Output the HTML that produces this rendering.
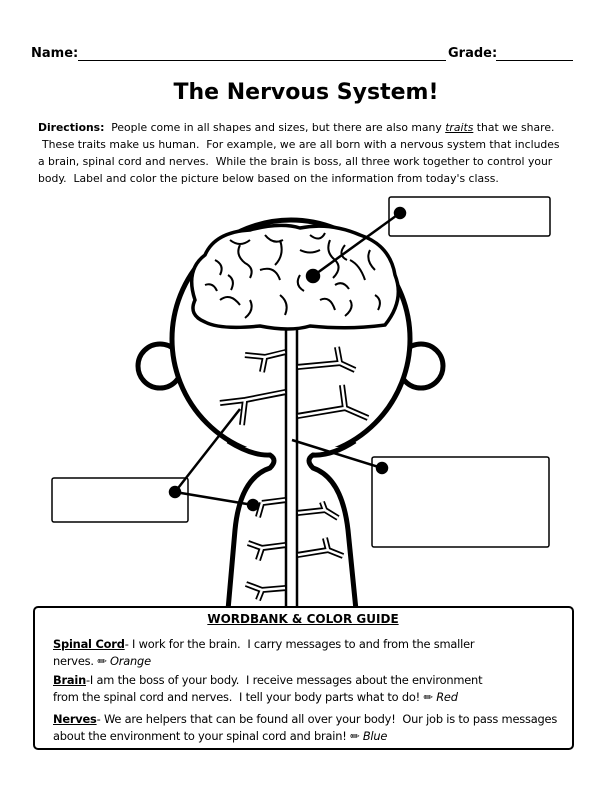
<!DOCTYPE html>
<html><head><style>
body{margin:0;width:612px;height:792px;background:#fff;position:relative;font-family:"DejaVu Sans","Liberation Sans",sans-serif;color:#000;overflow:hidden}
.a{position:absolute;white-space:nowrap}
.d{font-size:10.8px;left:38px}
.w{font-size:11.4px;left:53px;letter-spacing:-0.2px}
</style></head><body>
<div class="a" style="left:31px;top:46px;font-size:13px;font-weight:bold">Name:</div>
<div class="a" style="left:78px;top:60px;width:368px;border-top:1.5px solid #000"></div>
<div class="a" style="left:448px;top:46px;font-size:13px;font-weight:bold">Grade:</div>
<div class="a" style="left:496px;top:60px;width:77px;border-top:1.5px solid #000"></div>
<div class="a" style="left:0;width:612px;text-align:center;top:80px;font-size:22px;font-weight:bold">The Nervous System!</div>
<div class="a d" style="top:121px"><b>Directions:</b>&nbsp; People come in all shapes and sizes, but there are also many <i><u>traits</u></i> that we share.</div>
<div class="a d" style="top:138px;left:42px">These traits make us human.&nbsp; For example, we are all born with a nervous system that includes</div>
<div class="a d" style="top:155px">a brain, spinal cord and nerves.&nbsp; While the brain is boss, all three work together to control your</div>
<div class="a d" style="top:172px">body.&nbsp; Label and color the picture below based on the information from today's class.</div>

<svg class="a" style="left:0;top:0" width="612" height="792" viewBox="0 0 612 792">
<g fill="none" stroke="#000" stroke-width="5">
<circle cx="160" cy="366" r="22"/><circle cx="421" cy="366" r="22"/>
</g>
<circle cx="291" cy="339" r="119" fill="#fff" stroke="#000" stroke-width="5"/>
<rect x="230" y="447" width="124" height="163" fill="#fff" stroke="none"/>
<path d="M228,441 Q252,456 270,455 Q278,460 270,468 Q240,478 235,530 L228,610 M355,441 Q332,456 313,455 Q305,460 313,468 Q342,478 348,530 L356,610" fill="none" stroke="#000" stroke-width="5"/>
<g fill="#fff" stroke="#000" stroke-width="3.5">
<path d="M195,300 Q185,270 205,255 Q215,232 250,230 Q280,222 300,228 Q330,222 360,235 Q390,245 395,275 Q405,300 385,325 Q350,330 310,326 Q290,332 260,326 Q220,330 205,322 Q188,315 195,300Z"/>
</g>
<g fill="none" stroke="#000" stroke-width="2">
<path d="M215,260 q10,5 5,15 M240,245 q-5,10 5,18 q10,5 5,15 M260,270 q15,-5 20,10 M280,240 q5,15 -5,25 M300,250 q10,5 20,0 M330,240 q-5,12 5,20 q8,8 -2,18 M350,260 q10,5 15,20 M370,250 q-5,10 5,20 M220,300 q10,-8 20,5 M250,300 q5,10 -5,18 M280,295 q10,8 5,20 M320,300 q10,-5 15,10 M350,300 q5,8 -5,16 M375,295 q8,5 3,15 M205,285 q8,-3 12,6 M300,275 q-6,10 4,16 M230,240 q10,8 20,0 M265,235 q8,10 18,5 M310,235 q10,8 15,-2 M345,245 q-8,10 2,15 M228,275 q8,5 3,15 M335,285 q8,-5 14,4"/>
</g>
<g stroke="#000" stroke-width="2.5" fill="none">
<line x1="286" y1="330" x2="286" y2="610"/><line x1="297" y1="330" x2="297" y2="610"/>
</g>
<g fill="none" stroke-linejoin="miter">
<g stroke="#000" stroke-width="6">
<path d="M286,352 L265,357 L245,355 M265,357 L262,372 M297,367 L340,363 L355,370 M340,363 L337,347"/>
<path d="M286,392 L245,400 L220,403 M245,400 L242,425 M297,416 L345,408 L368,418 M345,408 L342,385"/>
<path d="M286,500 L262,503 M262,503 L258,517 M297,513 L325,510 L338,518 M325,510 L322,502"/>
<path d="M286,545 L262,548 L248,543 M262,548 L258,560 M297,555 L328,550 L343,556 M328,550 L325,538"/>
<path d="M286,588 L262,590 L246,584 M262,590 L258,600"/>
</g>
<g stroke="#fff" stroke-width="2.5">
<path d="M285,352 L265,357 L245,355 M265,357 L262,372 M298,367 L340,363 L355,370 M340,363 L337,347"/>
<path d="M285,392 L245,400 L220,403 M245,400 L242,425 M298,416 L345,408 L368,418 M345,408 L342,385"/>
<path d="M285,500 L262,503 M262,503 L258,517 M298,513 L325,510 L338,518 M325,510 L322,502"/>
<path d="M285,545 L262,548 L248,543 M262,548 L258,560 M298,555 L328,550 L343,556 M328,550 L325,538"/>
<path d="M285,588 L262,590 L246,584 M262,590 L258,600"/>
</g>
</g>
<g fill="none" stroke="#000" stroke-width="1.5">
<rect x="389" y="197" width="161" height="39" rx="2"/>
<rect x="52" y="478" width="136" height="44" rx="2"/>
<rect x="372" y="457" width="177" height="90" rx="2"/>
</g>
<g stroke="#000" stroke-width="2.5" fill="#000">
<line x1="400" y1="213" x2="313" y2="276"/><circle cx="400" cy="213" r="5"/><circle cx="313" cy="276" r="6"/>
<line x1="175" y1="492" x2="240" y2="409"/><line x1="175" y1="492" x2="253" y2="505"/><circle cx="175" cy="492" r="5"/><circle cx="253" cy="505" r="5"/>
<line x1="382" y1="468" x2="292" y2="440"/><circle cx="382" cy="468" r="5"/>
</g>
<rect x="34" y="607" width="539" height="142" rx="4" fill="#fff" stroke="#000" stroke-width="2"/>
</svg>
<div class="a" style="left:0;width:606px;text-align:center;top:612px;font-size:12px;font-weight:bold"><u>WORDBANK &amp; COLOR GUIDE</u></div>
<div class="a w" style="top:637px"><b><u>Spinal Cord</u></b>- I work for the brain.&nbsp; I carry messages to and from the smaller</div>
<div class="a w" style="top:654px">nerves. ✏ <i>Orange</i></div>
<div class="a w" style="top:673px"><b><u>Brain</u></b>-I am the boss of your body.&nbsp; I receive messages about the environment</div>
<div class="a w" style="top:690px">from the spinal cord and nerves.&nbsp; I tell your body parts what to do! ✏ <i>Red</i></div>
<div class="a w" style="top:712px"><b><u>Nerves</u></b>- We are helpers that can be found all over your body!&nbsp; Our job is to pass messages</div>
<div class="a w" style="top:729px">about the environment to your spinal cord and brain! ✏ <i>Blue</i></div>
</body></html>
